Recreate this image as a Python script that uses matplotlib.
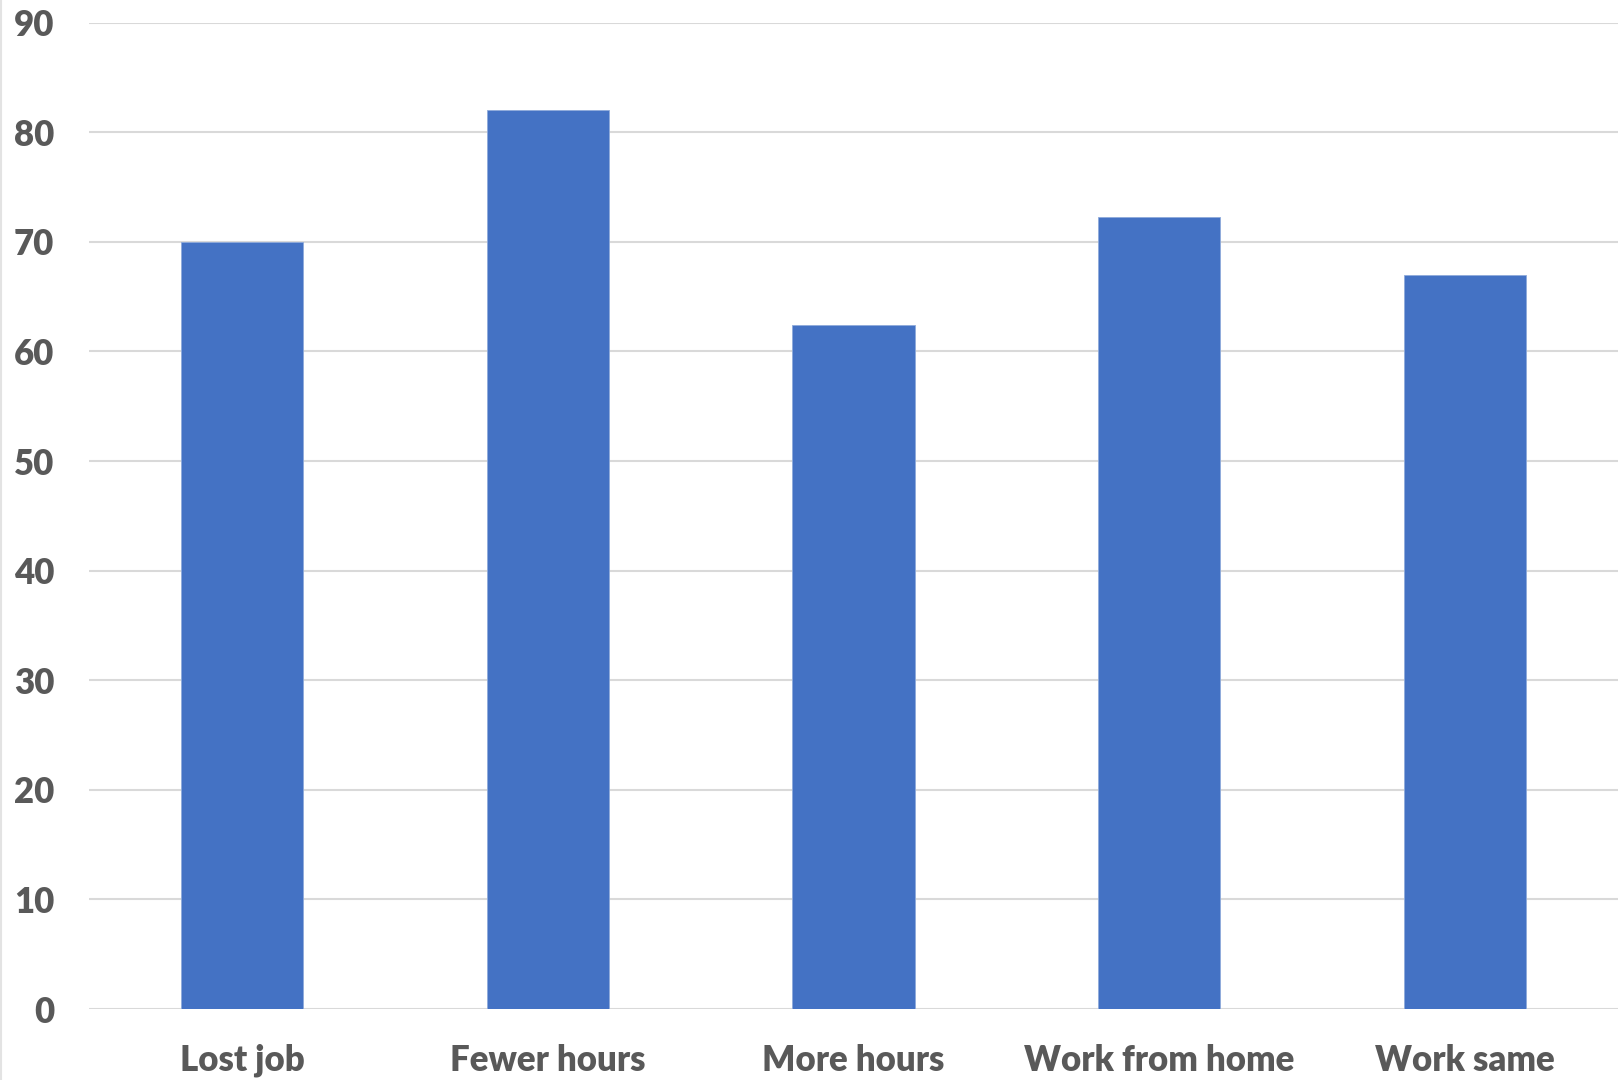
import matplotlib.pyplot as plt
from matplotlib.lines import Line2D

categories = ['Lost job', 'Fewer hours', 'More hours', 'Work from home', 'Work same']
values = [70, 82, 62.4, 72.3, 67.0]
yticks = [0, 10, 20, 30, 40, 50, 60, 70, 80, 90]

bar_color = '#4472C4'
text_color = '#595959'
grid_color = '#d9d9d9'

plt.rcParams['font.family'] = ['Lato', 'DejaVu Sans']

fig = plt.figure(figsize=(16.18, 10.8), dpi=100)
ax = fig.add_axes([0.055, 0.0657, 0.945, 0.9133])

x = [i + 0.5 for i in range(len(categories))]
ax.bar(x, values, width=0.4, color=bar_color, edgecolor='#8eaadb',
       linewidth=0.6, zorder=3)

ax.set_xlim(0, len(categories))
ax.set_ylim(0, 90)
ax.set_yticks(yticks)
ax.set_xticks(x)
ax.set_xticklabels(categories)

ax.grid(axis='y', color=grid_color, linewidth=1.5, zorder=0)
ax.set_axisbelow(True)
for s in ax.spines.values():
    s.set_visible(False)

ax.tick_params(axis='both', length=0, labelsize=25, labelcolor=text_color)
ax.tick_params(axis='y', pad=25)
ax.tick_params(axis='x', pad=25)
for lab in ax.get_xticklabels() + ax.get_yticklabels():
    lab.set_fontweight('heavy')

# thin border on the left edge
fig.add_artist(Line2D([0.0008, 0.0008], [0, 1], color='#e3e3e3',
                      linewidth=1.5, transform=fig.transFigure))

fig.savefig('out.png', dpi=100, facecolor='white')
